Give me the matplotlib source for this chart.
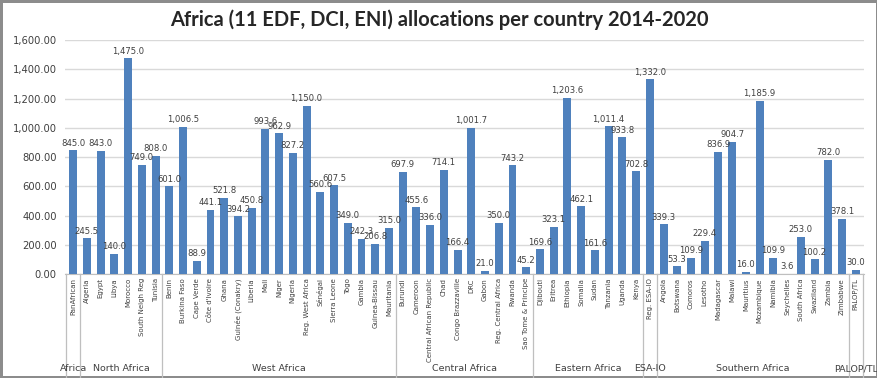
import matplotlib.pyplot as plt
import numpy as np
from matplotlib.ticker import FuncFormatter

# regions and the countries inside them, in chart order
regions = ['Africa', 'North Africa', 'West Africa', 'Central Africa',
           'Eastern Africa', 'ESA-IO', 'Southern Africa', 'PALOP/TL']

countries = [
    ['PanAfrican'],
    ['Algeria', 'Egypt', 'Libya', 'Morocco', 'South Neigh Reg', 'Tunisia'],
    ['Benin', 'Burkina Faso', 'Cape Verde', "Côte d'Ivoire", 'Ghana',
     'Guinée (Conakry)', 'Liberia', 'Mali', 'Niger', 'Nigeria',
     'Reg. West Africa', 'Sénégal', 'Sierra Leone', 'Togo', 'Gambia',
     'Guinea-Bissau', 'Mauritania'],
    ['Burundi', 'Cameroon', 'Central African Republic', 'Chad',
     'Congo Brazzaville', 'DRC', 'Gabon', 'Reg. Central Africa', 'Rwanda',
     'Sao Tome & Principe'],
    ['Djibouti', 'Eritrea', 'Ethiopia', 'Somalia', 'Sudan', 'Tanzania',
     'Uganda', 'Kenya'],
    ['Reg. ESA-IO'],
    ['Angola', 'Botswana', 'Comoros', 'Lesotho', 'Madagascar', 'Malawi',
     'Mauritius', 'Mozambique', 'Namibia', 'Seychelles', 'South Africa',
     'Swaziland', 'Zambia', 'Zimbabwe'],
    ['PALOP/TL'],
]

allocations = [
    [845.0],
    [245.5, 843.0, 140.0, 1475.0, 749.0, 808.0],
    [601.0, 1006.5, 88.9, 441.1, 521.8, 394.2, 450.8, 993.6, 962.9, 827.2,
     1150.0, 560.6, 607.5, 349.0, 242.3, 206.8, 315.0],
    [697.9, 455.6, 336.0, 714.1, 166.4, 1001.7, 21.0, 350.0, 743.2, 45.2],
    [169.6, 323.1, 1203.6, 462.1, 161.6, 1011.4, 933.8, 702.8],
    [1332.0],
    [339.3, 53.3, 109.9, 229.4, 836.9, 904.7, 16.0, 1185.9, 109.9, 3.6,
     253.0, 100.2, 782.0, 378.1],
    [30.0],
]

names = [c for grp in countries for c in grp]
vals = [v for grp in allocations for v in grp]
x = np.arange(len(names))

fig = plt.figure(figsize=(8.78, 3.78), dpi=100, facecolor='white',
                 edgecolor='#8c8c8c', linewidth=2.5)
ax = fig.add_axes([0.074, 0.275, 0.91, 0.619])

ax.bar(x, vals, width=0.58, color='#4F81BD', zorder=3)
for xi, v in zip(x, vals):
    ax.text(xi, v + 18, f'{v:,.1f}', ha='center', va='bottom',
            fontsize=6.1, color='#404040', zorder=4)

ax.set_xlim(-0.6, len(names) - 0.4)
ax.set_ylim(0, 1600)
ax.set_yticks(np.arange(0, 1601, 200))
ax.yaxis.set_major_formatter(FuncFormatter(lambda v, p: f'{v:,.2f}'))
ax.tick_params(axis='y', length=0, labelsize=7.2, labelcolor='#404040', pad=6)
ax.grid(axis='y', color='#d9d9d9', linewidth=1, zorder=0)
for s in ['left', 'right', 'top']:
    ax.spines[s].set_visible(False)
ax.spines['bottom'].set_color('#bfbfbf')

ax.set_xticks(x)
ax.set_xticklabels(names, rotation=90, fontsize=5.0, color='#404040', va='top')
ax.tick_params(axis='x', length=0, pad=3)

# region separators and labels under the country names
bounds = [-0.5]
for grp in countries:
    bounds.append(bounds[-1] + len(grp))
trans = ax.get_xaxis_transform()
for b in bounds:
    ax.plot([b, b], [0, -0.47], transform=trans, color='#bfbfbf',
            linewidth=0.9, clip_on=False)
for reg, lo, hi in zip(regions, bounds[:-1], bounds[1:]):
    ax.text((lo + hi) / 2, -0.405, reg, transform=trans, ha='center',
            va='center', fontsize=6.8, color='#404040')

fig.suptitle('Africa (11 EDF, DCI, ENI) allocations per country 2014-2020',
             x=0.5, y=0.975, fontsize=14.5, fontweight='bold',
             family=['Lato', 'DejaVu Sans'], color='#262626')

fig.savefig('out.png', dpi=100, edgecolor=fig.get_edgecolor())
